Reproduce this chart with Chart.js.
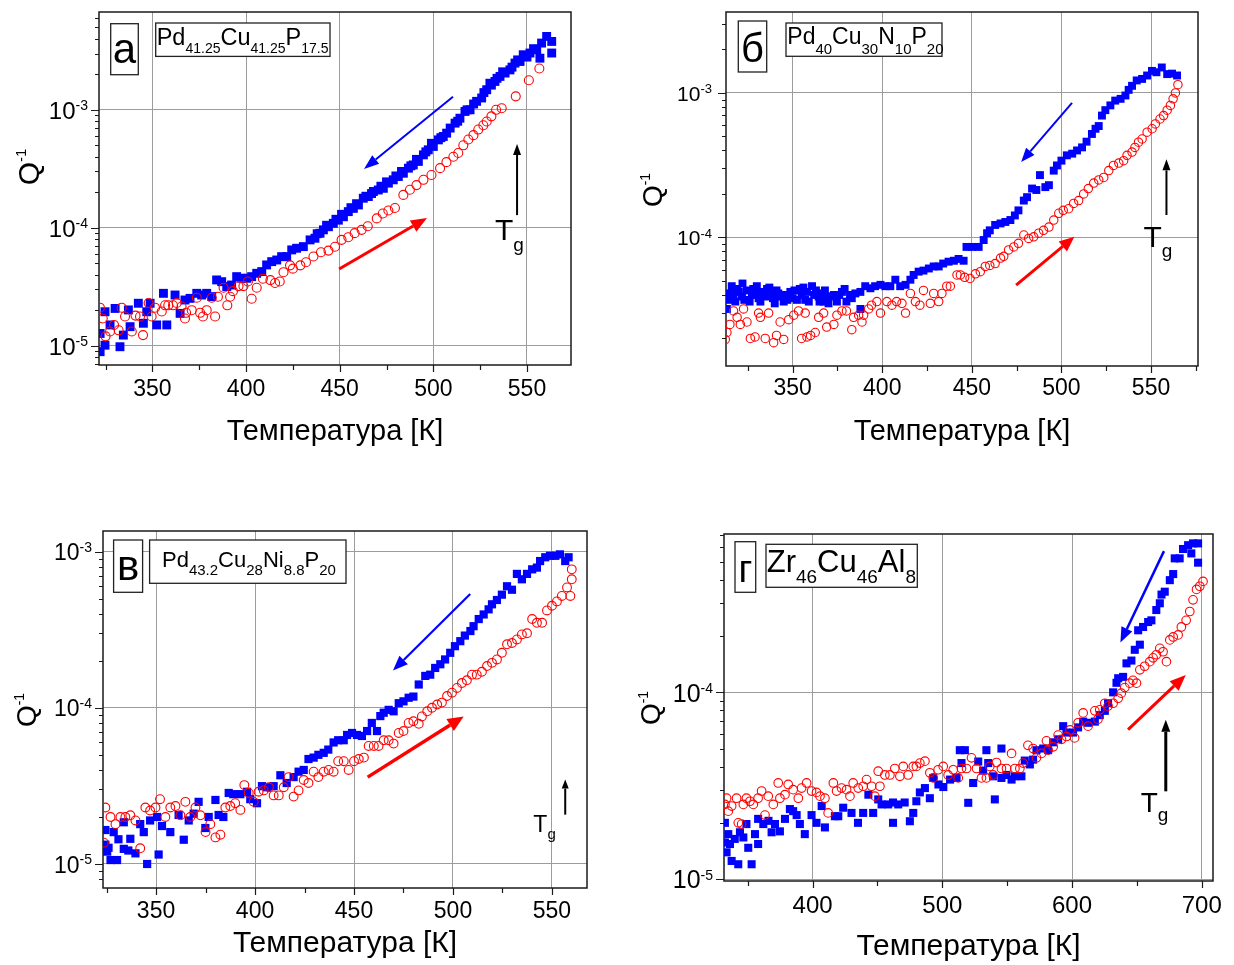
<!DOCTYPE html>
<html lang="ru">
<head>
<meta charset="utf-8">
<title>Q⁻¹(T) металлических стёкол</title>
<script src="https://cdn.jsdelivr.net/npm/chart.js@4.4.1/dist/chart.umd.min.js"></script>
<style>
  html, body { margin: 0; padding: 0; background: #fff; }
  body { width: 1234px; height: 965px; position: relative; overflow: hidden; }
  .panel { position: absolute; }
</style>
</head>
<body>
<div class="panel" id="pA"><canvas></canvas></div>
<div class="panel" id="pB"><canvas></canvas></div>
<div class="panel" id="pV"><canvas></canvas></div>
<div class="panel" id="pG"><canvas></canvas></div>
<script>
const FONT = "'Liberation Sans', Arial, Helvetica, sans-serif";
const E5 = 1e-5;           // Q^-1 values below are stored in units of 1e-5
const BLUE = '#0000ff', RED = '#ff0000', GRID = '#9c9c9c';

// x tick labels, y decades
const xTicks50 = [350, 400, 450, 500, 550];
const xTicks100 = [400, 500, 600, 700];
const decadesA = [1e-5, 1e-4, 1e-3];
const decadesB = [1e-4, 1e-3];
const decadesV = [1e-5, 1e-4, 1e-3];
const decadesG = [1e-5, 1e-4];

// Pd41.25Cu41.25P17.5 : [T, Q^-1 x1e5]
const coolA = [[560.5,419],[563.2,380],[563.2,303],[557.8,368],[555.2,323],[556.9,274],[553.5,330],[551.6,303],[550,280],[548.0,293],[546.3,257],[545,265],[543.6,249],[542,230],[540.9,218],[538.3,205],[537,210],[535.6,192],[534,185],[532.9,174],[531,162],[530.2,168],[528.5,148],[527,140],[525.8,126],[523.1,118],[521.5,112],[519.6,100],[518,100],[516.9,96.8],[514.2,84.9],[513,80],[511.6,77.1],[509,70],[507.1,63.4],[505.3,59.4],[504,58],[502.7,55.6],[500.0,48.9],[499,52],[497.3,45.8],[496,44],[494.7,41.5],[492.0,36.5],[491,38],[489.3,34.1],[488,33.5],[486.7,32.0],[484.0,29.0],[483,30],[481.3,27.2],[480,27.5],[478.6,25.5],[476.0,23.9],[475,24.5],[473.3,21.6],[472,22.5],[470.6,20.9],[468.0,20.3],[467,19.5],[465.3,18.4],[464,18.5],[462.6,17.8],[460.0,15.6],[459,16],[457.3,14.6],[456,14.8],[454.6,13.7],[452.0,12.4],[451,13],[449.3,11.6],[448,11.8],[446.6,10.9],[444.0,10.2],[443,10.5],[441.3,9.6],[439.5,8.98],[438,8.9],[436.8,8.15],[434.2,7.89],[430.6,6.92],[427.0,6.70],[424.4,6.49],[421.7,5.69],[419.0,5.69],[416.4,5.33],[413.7,5.16],[411.0,4.84],[408.4,4.25],[405.7,4.11],[403.0,3.85],[400.4,3.73],[397.7,3.73],[395.0,3.85],[392.3,3.27],[389.7,3.17],[387.0,3.49],[384.3,3.61],[381.7,2.61],[379.0,2.78],[376.3,2.69],[373.7,2.78],[370.1,2.52],[367.4,2.44],[364.8,1.88],[362.1,2.69],[357.7,1.50],[355.9,2.78],[352.3,1.50],[348.8,2.29],[347.0,1.94],[345.2,1.55],[342.5,2.29],[338.1,1.45],[337.2,2.01],[334.5,1.23],[332.7,0.98],[330.1,2.07],[327.4,1.50],[324.7,1.94],[324.7,1.01],[322.1,0.89],[322.1,1.27]];
const heatA = [[556.6,224],[551.0,178],[544.0,130],[536.5,103],[533.5,100],[531.0,88],[528.5,79.6],[526.7,74],[524.0,68],[521.4,61],[518.7,56],[516.0,50],[513.3,43],[510.7,40],[507.0,36],[503.6,32],[499.0,28],[494.7,25.5],[491.0,23],[487.5,21],[484.0,19],[479.5,14.7],[476.0,14],[473.0,13.2],[469.8,12],[465.0,10.3],[461.7,9.6],[458.0,9.0],[454.6,8.3],[451.0,7.9],[447.5,6.9],[444.0,6.4],[440.0,6.2],[436.0,5.7],[432.0,5.1],[429.0,4.8],[425.0,4.5],[423.5,4.8],[420.0,4.2],[418.0,3.5],[415.5,3.4],[413.0,3.6],[409.0,3.7],[405.7,3.1],[403.0,2.5],[401.0,3.5],[398.6,3.2],[396.0,3.2],[393.0,2.9],[391.5,2.6],[390.0,2.2],[388.0,3.1],[385.0,2.6],[381.7,2.55],[383.5,1.77],[379.0,2.0],[377.0,1.77],[375.5,1.9],[373.7,2.55],[371.0,2.0],[368.0,1.9],[367.4,1.7],[365.6,2.15],[363.0,2.3],[361.0,2.2],[358.5,2.2],[356.8,2.2],[355.0,1.95],[351.4,2.1],[349.6,1.77],[348.0,2.3],[345.0,1.23],[343.4,1.77],[341.0,1.8],[339.0,1.32],[335.4,1.77],[333.6,2.1],[332.0,1.35],[329.5,1.5],[327.4,1.32],[325.0,1.2],[323.5,1.7],[322.0,2.1]];

// Pd40Cu30N10P20
const coolB = [[564.5,132],[561.7,136],[559,135],[556,150],[553,139],[550.5,142],[547.8,132],[545,125],[542,122],[539.4,112],[537.5,105],[535.7,96],[533,91],[530,88.5],[527.3,82],[524.5,76],[522.6,69.7],[520.8,59],[519,56.5],[517,52],[514,46],[511.5,42],[508.7,40],[506,38],[503,37],[500,34],[497.5,31.5],[495.7,29],[493,23],[491,22.3],[488,27],[486,21.3],[483.6,21.8],[480.8,19],[479,18],[476,15.4],[474,14.2],[471.5,13.2],[468.7,12.8],[466,12.5],[463,12.2],[460,11.2],[458.5,10.7],[456.6,9.6],[453.8,8.6],[450,8.6],[447,8.6],[445.4,6.9],[442.6,7.1],[440,6.9],[437,6.8],[434,6.6],[431.5,6.3],[428.7,6.3],[426,6.1],[423,5.9],[420.3,5.8],[417.5,5.5],[415.7,5.1],[413,4.7],[410,4.6],[407.3,5.1],[404.5,4.6],[401.7,4.6],[399,4.7],[396,4.6],[393.4,4.45],[390.5,4.6],[387.8,4.2],[387.8,3.2],[385,4.1],[383,3.8],[382,4.0],[380,3.6],[379,4.4],[377.5,4.2],[376,4.0],[374.7,3.6],[373,4.0],[371,3.9],[370,3.5],[369,3.9],[368,4.3],[367.3,3.6],[366,4.1],[365,3.6],[364.5,3.9],[363,4.3],[362,4.0],[360.8,4.6],[359,3.6],[358,4.2],[357,3.7],[356,4.5],[355,4.0],[354,4.4],[352.4,3.7],[351,4.3],[350,3.8],[348.7,4.2],[347,3.7],[346,4.0],[345,3.6],[343,3.9],[342,4.1],[341,4.3],[340,3.5],[339,3.8],[338.5,4.2],[337,4.5],[336,3.9],[335.7,4.4],[334,4.0],[333,4.2],[332,3.6],[331,3.8],[330,4.6],[329,4.1],[328,4.4],[327.3,4.0],[326,3.6],[324.5,4.3],[323,3.7],[322,4.8],[321.7,3.9],[320,4.2],[319,4.4],[318,3.6],[317,4.0],[316,4.6],[315,4.1],[314,3.7],[313.3,3.2]];
const heatB = [[565,114],[563.6,100],[562.3,91],[560.8,82],[559,76],[557,69.7],[555,66],[552.4,61],[550.6,56.5],[547.8,53.5],[545,48],[543,45.6],[541,42],[539.4,39],[536.6,37],[534.7,34],[532,32.7],[529,31.5],[526.4,29],[523.6,26],[520.8,25],[518,23.8],[515,21.8],[512.4,20],[509.6,18],[506.8,17.2],[504,15.8],[501,15.4],[498.5,14.7],[495.7,13.2],[493,11.8],[490,11.2],[487.3,10.7],[484.5,10.1],[481.7,9.85],[479,10.4],[476,9.1],[473.4,8.6],[470.5,8.2],[467.8,7.4],[466,7.2],[463,6.6],[460,6.4],[457.5,6.3],[454.7,5.8],[452,5.6],[449,5.2],[446,5.3],[443.6,5.5],[441.7,5.5],[438,4.6],[436,4.6],[433.3,4.1],[431.5,3.6],[428.7,4.1],[426.8,3.5],[423,4.3],[421,3.4],[418.5,3.6],[415.7,4.1],[413,3.0],[411,3.5],[408,3.6],[405.4,3.4],[402.6,3.6],[399,3.0],[397,3.6],[394,3.4],[392.4,3.2],[389.6,2.9],[388.7,2.6],[386.8,2.9],[384,2.8],[383,2.3],[380,3.1],[377.5,3.1],[374.7,2.9],[373,2.5],[369,2.4],[367.3,3.0],[364.5,2.8],[362.6,2.2],[360,2.1],[358,2.05],[355,2.0],[357,3.0],[353.3,3.1],[350.6,2.9],[347.8,2.7],[345,1.97],[343,2.6],[341,2.1],[339.4,1.87],[336.6,3.0],[334.7,2.0],[332,2.8],[331,3.0],[329,2.05],[326.4,2.0],[324.5,2.6],[322.6,3.2],[320.8,2.5],[319,2.8],[317,3.1],[315,2.5],[313.3,2.2],[312.4,1.97]];

// Pd43.2Cu28Ni8.8P20
const coolV = [[558.4,92],[556.7,87],[554,96],[551.7,94],[549,94],[546.6,92],[544,87],[542.4,79],[540,77],[537.4,72],[534.8,66.5],[532.3,72],[529.8,57],[527.3,60],[524.7,53],[522.2,49],[519.7,46],[518,42.7],[515.5,39.6],[513,37],[510.4,33.3],[508.8,31],[506,29],[503.7,26.7],[501,24.8],[498.6,22.5],[496,20.4],[493.6,19],[491,18],[488.5,16.3],[486,16],[482.7,14.1],[480,11.8],[477.6,11.6],[475,11],[472.6,10.7],[470,9.5],[467.5,9.7],[465,9.3],[463.3,8.85],[459,8.0],[461.6,7.1],[456.6,7.1],[454,6.6],[451.5,6.7],[449,6.9],[446.5,6.7],[444.8,6.2],[442,6.2],[439.7,6.0],[437,5.4],[434.7,5.15],[432,5.0],[429.6,4.8],[427,4.7],[424.6,4.0],[422,3.9],[419.5,3.6],[416,3.3],[412.8,3.7],[409.4,3.15],[406,3.1],[403.5,3.15],[401,2.45],[397.6,2.6],[396,2.9],[392.6,2.8],[389,2.8],[386.7,2.85],[384,2.0],[381.6,2.06],[380,2.57],[376.6,2.0],[374.9,1.7],[371.5,2.5],[369,2.1],[366.5,1.9],[364,1.43],[361.4,2.06],[357.2,1.6],[353,1.75],[351.3,1.15],[350.5,2.0],[347,1.9],[345.5,1.0],[343.8,1.6],[342,1.8],[339.6,1.17],[337,1.45],[336,1.22],[333.7,1.85],[333.7,1.25],[331,1.44],[330.3,1.06],[328.6,1.6],[327,1.06],[326,1.27],[324.4,1.65],[325.3,1.2],[324.4,1.33]];
const heatV = [[560,77],[560,66.5],[559.3,52],[557.6,59],[555,52],[552.5,48],[550,45],[547.5,42],[545,35],[542.4,35],[540,37],[537.4,30],[534.8,29.5],[532.3,27.4],[529.8,26],[527.3,25.5],[524.7,22.5],[522.2,20.4],[519.7,19.4],[517.2,18.5],[514.6,17],[512,16.3],[509.6,16.3],[507,15],[504.5,14.4],[502,13.4],[499.5,12.5],[497,11.9],[494.4,10.8],[492,10.5],[489.4,10.0],[487,9.5],[484.3,8.8],[482.7,7.9],[480,8.2],[477.6,8.0],[475,7.1],[472.6,6.9],[470,5.9],[467.5,6.2],[465,6.2],[462.4,5.7],[460,5.7],[457.4,5.7],[455,4.8],[452.4,4.7],[450,4.55],[447.3,4.0],[444.8,4.55],[442,4.55],[439.7,3.9],[437.2,4.0],[434.7,3.9],[432,3.6],[429.6,3.9],[427,3.3],[424.6,3.45],[422,2.96],[419.5,2.7],[417,3.6],[414.5,3.1],[412,2.75],[409.4,2.75],[407,3.1],[404.4,2.96],[401.8,2.9],[399.3,2.5],[396.8,2.85],[394.6,3.2],[392.6,2.22],[390,2.45],[387.5,2.35],[385,2.3],[382.5,1.54],[380,1.48],[377.4,1.8],[375,1.6],[372.4,2.05],[369.9,2.3],[367.3,2.0],[364.8,2.5],[362.3,2.05],[359.8,2.35],[357.2,2.3],[354.7,2.0],[352,2.6],[349.7,2.3],[347,2.2],[344.6,2.3],[342,1.26],[339.6,1.9],[337,2.05],[334.5,2.0],[332,2.0],[329.5,1.8],[327,2.0],[324.4,2.3],[323.6,1.37]];

// Zr46Cu46Al8
const coolG = [[697.2,62.8],[693.3,62.8],[689.5,61.4],[692,55.5],[697.2,49.5],[685.6,58.6],[683,52.2],[679.2,52.2],[678,43.0],[675.4,39.9],[671.5,34.6],[669,33.4],[667.7,30.0],[665,27.6],[661.2,24.3],[658.7,23.8],[654.8,22.4],[651,21.5],[652.3,18.0],[648.4,16.9],[645.8,14.8],[642,14.3],[639.4,12.1],[635.6,11.9],[634.3,11.25],[631.7,10],[627.8,8.74],[625.3,7.96],[621.4,7.55],[617.6,6.97],[612.4,6.87],[608.6,6.97],[604.7,6.49],[600.8,6.09],[595.7,6.09],[593.2,6.59],[589.3,5.6],[585.5,5.4],[581.6,4.9],[577.8,5.0],[572.6,4.9],[570,4.36],[567.5,4.11],[563.6,4.31],[561,3.55],[556,3.55],[553.4,3.41],[549.5,3.61],[545.6,5.0],[545.6,3.48],[540.5,2.67],[539.2,3.55],[535.4,4.18],[534,4.9],[531.5,3.81],[527.7,4.26],[523.8,3.27],[520,2.56],[517.4,4.9],[513.5,4.9],[514.8,4.18],[511,3.48],[506,3.41],[500.8,3.11],[497,3.21],[493,3.48],[490.4,2.71],[486.6,3.07],[482.7,2.91],[480,2.61],[477.6,2.26],[475,2.04],[471,2.57],[466,2.51],[462,2.0],[462,2.57],[458.3,2.51],[453.2,2.51],[450.6,2.67],[446.7,2.26],[443,2.83],[439,2.26],[435,2.0],[430,2.26],[423.6,2.41],[419.8,2.17],[417.2,2.17],[409.5,1.89],[407,2.46],[403,2.0],[399.2,2.2],[394,1.74],[390.2,1.97],[387.7,2.2],[385,2.31],[382.5,2.37],[378.7,2.1],[374.8,1.8],[371,1.97],[368.4,1.78],[366,2.05],[362,1.97],[358,2.1],[358,1.54],[355.6,1.74],[353,1.2],[350.4,1.47],[349,1.97],[346.6,1.67],[344,1.78],[342.7,1.2],[340,1.64],[337.6,1.25],[336.3,1.54],[335,1.74],[333.7,1.39],[332.4,1.57],[332.4,2.0]];
const heatG = [[701,39.3],[698.5,37.0],[696,35.6],[693.3,31.3],[690.8,27.1],[688,24.3],[684.3,22.4],[681.8,20.3],[678,19.8],[675.4,19.1],[672.8,14.6],[670.2,16.5],[667.7,17.2],[665,15.9],[662.5,15.3],[660,14.6],[656,13.8],[652.3,13.2],[649.7,11.2],[647,11.6],[644.5,11.2],[640.7,10.6],[638,9.9],[635.6,9.3],[631.7,8.74],[627.8,8.44],[625.3,8.74],[621.4,8.06],[617.6,7.96],[620,7.18],[612.4,6.59],[608.6,7.76],[604.7,6.87],[602,5.7],[598.5,6.29],[595.7,5.8],[591.9,5.6],[589.3,5.9],[585.5,5.11],[581.6,4.9],[580.3,5.5],[576.5,4.71],[572.6,4.46],[570,5.0],[566,5.2],[562.3,4.18],[559.8,3.91],[556,3.91],[553.4,4.71],[549.5,3.91],[545.6,3.91],[541.8,4.21],[539.2,3.61],[536.6,4.01],[534,3.48],[530.2,3.48],[526.4,3.91],[522.5,4.46],[518.7,3.91],[514.8,3.91],[512.3,3.48],[508.4,3.85],[504.5,3.61],[500.7,4.01],[496.8,3.85],[493,3.48],[490.4,3.71],[486.6,4.28],[482.7,4.18],[480,4.01],[477.6,4.01],[473.7,3.61],[469.9,4.01],[467.3,3.55],[463.4,3.91],[459.6,3.61],[455.7,3.61],[451.9,3.14],[450.6,3.78],[448,2.78],[445.5,3.14],[441.6,3.41],[439,3.14],[435.2,3.07],[431.3,3.27],[428.8,2.78],[426.2,3.01],[422.3,3.07],[418.5,2.96],[416,3.27],[412,2.26],[409.5,2.71],[405.7,2.78],[403,2.91],[399.2,2.96],[395.4,3.27],[391.5,3.07],[389,2.71],[385,3.01],[381.2,3.21],[378.7,2.83],[374.8,2.71],[373.5,3.27],[369.7,2.51],[365.8,2.78],[363.3,2.2],[360.7,2.96],[358,2.71],[354.3,2.51],[351.7,2.61],[349,2.71],[346.6,2.51],[345.3,1.97],[342.7,2.0],[341.4,2.71],[337.6,2.46],[335,2.31],[333.7,2.71],[332.4,2.51]];

const panels = [
  { id: 'pA', box: [0, 0, 600, 460], area: [99, 12, 571, 365],
    xRange: [321.5, 573.5], yRange: [6.86e-6, 6.75e-3], xTicks: xTicks50, xMinor: 25, yTicks: decadesA,
    cool: coolA, heat: heatA, sq: 6.3, ci: 4.5,
    tickFont: 23, tickPad: 11, titleFont: 29, titlePad: 10.6,
    decFont: 24, expFont: 14, labGap: 11, q: [-71, 155, 30],
    letter: { ch: 'а', box: [11.7, 11.7, 27.6, 51], base: 39.3, size: 42 },
    formula: { box: [56.7, 11, 174.3, 33.4], tx: 1, base: 21.7, subBase: 30, size: 23.5, sub: 14,
      parts: [['Pd', 0], ['41.25', 1], ['Cu', 0], ['41.25', 1], ['P', 0], ['17.5', 1]] },
    arrows: [
      { from: [510.5, 129], to: [463, 31.5], color: BLUE, lw: 2, head: [15, 5.5] },
      { from: [449.7, 4.47], to: [496.6, 12.1], color: RED, lw: 3, head: [16, 6.5] },
      { from: [544.7, 12.8], to: [544.7, 51.4], color: '#000', lw: 2, head: [11, 4] }],
    tg: { at: [532.9, 7.9], size: 30, sub: 19, drop: 11 } },
  { id: 'pB', box: [610, 0, 624, 460], area: [726, 12, 1198, 366],
    xRange: [312.8, 576.2], yRange: [1.29e-5, 3.63e-3], xTicks: xTicks50, xMinor: 25, yTicks: decadesB,
    cool: coolB, heat: heatB, sq: 5.6, ci: 4.2,
    tickFont: 23, tickPad: 9.2, titleFont: 29, titlePad: 10.6,
    decFont: 21, expFont: 13, labGap: 14, q: [-74, 178, 28],
    letter: { ch: 'б', box: [12.3, 9, 28.4, 51], base: 41, size: 40 },
    formula: { box: [60, 11, 156, 33.3], tx: 1.3, base: 21.3, subBase: 30.6, size: 23, sub: 15,
      parts: [['Pd', 0], ['40', 1], ['Cu', 0], ['30', 1], ['N', 0], ['10', 1], ['P', 0], ['20', 1]] },
    arrows: [
      { from: [505.9, 85.3], to: [477.5, 33.3], color: BLUE, lw: 2, head: [14, 5.5] },
      { from: [474.7, 4.68], to: [507.2, 10.1], color: RED, lw: 3, head: [15, 6.5] },
      { from: [558.6, 14.3], to: [558.6, 34.7], color: '#000', lw: 2, head: [11, 4] }],
    tg: { at: [545.8, 8.57], size: 30, sub: 19, drop: 10 } },
  { id: 'pV', box: [0, 480, 600, 485], area: [103, 531, 587, 888],
    xRange: [323.2, 567.7], yRange: [7.02e-6, 1.355e-3], xTicks: xTicks50, xMinor: 25, yTicks: decadesV,
    cool: coolV, heat: heatV, sq: 5.8, ci: 4.4,
    tickFont: 23, tickPad: 10, titleFont: 30, titlePad: 3,
    decFont: 23, expFont: 14, labGap: 11, q: [-77, 179, 28],
    letter: { ch: 'в', box: [10.6, 9, 29, 52.3], base: 40, size: 42 },
    formula: { box: [46.6, 9, 196.4, 43.3], tx: 12.4, base: 26.7, subBase: 35, size: 22, sub: 15,
      parts: [['Pd', 0], ['43.2', 1], ['Cu', 0], ['28', 1], ['Ni', 0], ['8.8', 1], ['P', 0], ['20', 1]] },
    arrows: [
      { from: [508.7, 53.6], to: [469.7, 17.3], color: BLUE, lw: 2.2, head: [15, 6] },
      { from: [456.9, 3.6], to: [505.4, 8.8], color: RED, lw: 3.5, head: [16, 7] },
      { from: [556.7, 2.07], to: [556.7, 3.47], color: '#000', lw: 2, head: [9, 3.5] }],
    tg: { at: [540.6, 1.61], size: 23, sub: 15, drop: 7 } },
  { id: 'pG', box: [610, 480, 624, 485], area: [724, 534, 1213, 881],
    xRange: [331.7, 708.7], yRange: [9.76e-6, 7.05e-4], xTicks: xTicks100, xMinor: 50, yTicks: decadesG,
    cool: coolG, heat: heatG, sq: 5.7, ci: 4.3,
    tickFont: 24, tickPad: 10.6, titleFont: 30, titlePad: 0,
    decFont: 25, expFont: 14, labGap: 11, q: [-74, 174, 28],
    letter: { ch: 'г', box: [11, 7.7, 20.7, 50.6], base: 40, size: 38 },
    formula: { box: [42, 10.3, 151.3, 43], tx: 0.7, base: 27.4, subBase: 38.4, size: 31, sub: 19,
      parts: [['Zr', 0], ['46', 1], ['Cu', 0], ['46', 1], ['Al', 0], ['8', 1]] },
    arrows: [
      { from: [670.9, 57.1], to: [637.3, 18.5], color: BLUE, lw: 2.5, head: [15, 6] },
      { from: [643.2, 6.31], to: [687.7, 12.4], color: RED, lw: 3, head: [16, 6.5] },
      { from: [672.3, 2.95], to: [672.3, 7.13], color: '#000', lw: 3, head: [12, 4.5] }],
    tg: { at: [653, 2.3], size: 28, sub: 19, drop: 9 } }
];

function arrow(ctx, x0, y0, x1, y1, color, lw, hl, hw) {
  const a = Math.atan2(y1 - y0, x1 - x0), c = Math.cos(a), s = Math.sin(a);
  const bx = x1 - hl * c, by = y1 - hl * s;
  ctx.strokeStyle = color; ctx.fillStyle = color; ctx.lineWidth = lw;
  ctx.beginPath(); ctx.moveTo(x0, y0); ctx.lineTo(bx, by); ctx.stroke();
  ctx.beginPath(); ctx.moveTo(x1, y1);
  ctx.lineTo(bx + hw * s, by - hw * c);
  ctx.lineTo(bx - hw * s, by + hw * c);
  ctx.closePath(); ctx.fill();
}

function decor(p) {
  return {
    id: 'decor',
    beforeDatasetsDraw(chart) {
      const { ctx, chartArea: a, scales: { x, y } } = chart;
      ctx.save();
      ctx.strokeStyle = '#1a1a1a'; ctx.lineWidth = 1.2;
      ctx.beginPath();
      // outward ticks on bottom axis
      for (let v = Math.ceil(x.min / p.xMinor) * p.xMinor; v <= x.max; v += p.xMinor) {
        const px = Math.round(x.getPixelForValue(v)) + 0.5;
        const major = p.xTicks.includes(v);
        ctx.moveTo(px, a.bottom); ctx.lineTo(px, a.bottom + (major ? 7 : 5));
      }
      // log ticks on left axis
      const e0 = Math.floor(Math.log10(y.min)), e1 = Math.ceil(Math.log10(y.max));
      for (let e = e0; e <= e1; e++) {
        for (let m = 1; m <= 9; m++) {
          const v = m * Math.pow(10, e);
          if (v < y.min || v > y.max) continue;
          const py = Math.round(y.getPixelForValue(v)) + 0.5;
          ctx.moveTo(a.left, py); ctx.lineTo(a.left - (m === 1 ? 8 : 4), py);
        }
      }
      ctx.stroke();
      ctx.lineWidth = 1.5;
      ctx.strokeRect(a.left, a.top, a.right - a.left, a.bottom - a.top);

      // decade labels 10^n
      ctx.fillStyle = '#000'; ctx.textBaseline = 'alphabetic'; ctx.textAlign = 'left';
      for (const v of p.yTicks) {
        const py = y.getPixelForValue(v);
        const ex = String(Math.round(Math.log10(v)));
        ctx.font = p.decFont + 'px ' + FONT;
        const w1 = ctx.measureText('10').width;
        ctx.font = p.expFont + 'px ' + FONT;
        const w2 = ctx.measureText(ex).width;
        const x0 = a.left - p.labGap - w1 - w2;
        ctx.font = p.decFont + 'px ' + FONT;
        ctx.fillText('10', x0, py + p.decFont * 0.37);
        ctx.font = p.expFont + 'px ' + FONT;
        ctx.fillText(ex, x0 + w1, py + 0.5);
      }

      // rotated Q^-1 title
      ctx.save();
      ctx.translate(a.left + p.q[0], a.top + p.q[1]);
      ctx.rotate(-Math.PI / 2);
      const qf = p.q[2], sf = Math.round(qf * 0.5);
      ctx.font = qf + 'px ' + FONT;
      const wq = ctx.measureText('Q').width;
      ctx.font = sf + 'px ' + FONT;
      const ws = ctx.measureText('-1').width;
      const sx = -(wq + ws) / 2;
      ctx.font = qf + 'px ' + FONT;
      ctx.fillText('Q', sx, qf * 0.36);
      ctx.font = sf + 'px ' + FONT;
      ctx.fillText('-1', sx + wq, -qf * 0.08);
      ctx.restore();
      ctx.restore();
    },
    afterDatasetsDraw(chart) {
      const { ctx, chartArea: a, scales: { x, y } } = chart;
      ctx.save();
      for (const ar of p.arrows) {
        arrow(ctx, x.getPixelForValue(ar.from[0]), y.getPixelForValue(ar.from[1] * E5),
          x.getPixelForValue(ar.to[0]), y.getPixelForValue(ar.to[1] * E5),
          ar.color, ar.lw, ar.head[0], ar.head[1]);
      }
      // T_g
      ctx.fillStyle = '#000'; ctx.textAlign = 'left'; ctx.textBaseline = 'alphabetic';
      const tx = x.getPixelForValue(p.tg.at[0]), ty = y.getPixelForValue(p.tg.at[1] * E5);
      ctx.font = p.tg.size + 'px ' + FONT;
      ctx.fillText('T', tx, ty);
      const wt = ctx.measureText('T').width;
      ctx.font = p.tg.sub + 'px ' + FONT;
      ctx.fillText('g', tx + wt, ty + p.tg.drop);

      // panel letter
      const L = p.letter;
      ctx.fillStyle = '#fff'; ctx.strokeStyle = '#222'; ctx.lineWidth = 1.3;
      ctx.fillRect(a.left + L.box[0], a.top + L.box[1], L.box[2], L.box[3]);
      ctx.strokeRect(a.left + L.box[0], a.top + L.box[1], L.box[2], L.box[3]);
      ctx.fillStyle = '#000'; ctx.textAlign = 'center';
      ctx.font = L.size + 'px ' + FONT;
      ctx.fillText(L.ch, a.left + L.box[0] + L.box[2] / 2, a.top + L.box[1] + L.base);

      // alloy composition
      const F = p.formula;
      const bx = a.left + F.box[0], by = a.top + F.box[1];
      ctx.fillStyle = '#fff';
      ctx.fillRect(bx, by, F.box[2], F.box[3]);
      ctx.strokeRect(bx, by, F.box[2], F.box[3]);
      ctx.fillStyle = '#000'; ctx.textAlign = 'left';
      let cx = bx + F.tx;
      for (const [txt, sub] of F.parts) {
        ctx.font = (sub ? F.sub : F.size) + 'px ' + FONT;
        ctx.fillText(txt, cx, by + (sub ? F.subBase : F.base));
        cx += ctx.measureText(txt).width;
      }
      ctx.restore();
    }
  };
}

Chart.defaults.font.family = FONT;
Chart.defaults.color = '#000';

function makePanel(p) {
  const wrap = document.getElementById(p.id);
  const [bl, bt, bw, bh] = p.box;
  Object.assign(wrap.style, { left: bl + 'px', top: bt + 'px', width: bw + 'px', height: bh + 'px' });
  const yW = p.area[0] - bl;
  const xH = bt + bh - p.area[3];
  new Chart(wrap.querySelector('canvas'), {
    type: 'scatter',
    data: {
      datasets: [
        { data: p.heat.map(([t, q]) => ({ x: t, y: q * E5 })), pointStyle: 'circle',
          pointRadius: p.ci, borderColor: RED, backgroundColor: 'rgba(255,255,255,0)', borderWidth: 1.1, clip: 0 },
        { data: p.cool.map(([t, q]) => ({ x: t, y: q * E5 })), pointStyle: 'rect',
          pointRadius: p.sq, backgroundColor: BLUE, borderWidth: 0, clip: 0 }
      ]
    },
    options: {
      responsive: true, maintainAspectRatio: false, animation: false, devicePixelRatio: 1, events: [],
      layout: { padding: { left: 0, top: p.area[1] - bt, right: bl + bw - p.area[2], bottom: 0 } },
      plugins: { legend: { display: false }, tooltip: { enabled: false } },
      scales: {
        x: {
          type: 'linear', min: p.xRange[0], max: p.xRange[1],
          afterBuildTicks: s => { s.ticks = p.xTicks.map(v => ({ value: v })); },
          afterFit: s => { s.height = xH; },
          grid: { color: GRID, lineWidth: 1, drawTicks: false },
          border: { display: false },
          ticks: { font: { size: p.tickFont }, color: '#000', padding: p.tickPad, maxRotation: 0, autoSkip: false },
          title: { display: true, text: 'Температура [К]', font: { size: p.titleFont }, color: '#000',
            padding: { top: 0, bottom: p.titlePad } }
        },
        y: {
          type: 'logarithmic', min: p.yRange[0], max: p.yRange[1],
          afterBuildTicks: s => { s.ticks = p.yTicks.map(v => ({ value: v })); },
          afterFit: s => { s.width = yW; },
          grid: { color: GRID, lineWidth: 1, drawTicks: false },
          border: { display: false },
          ticks: { display: false }
        }
      }
    },
    plugins: [decor(p)]
  });
}

panels.forEach(makePanel);
</script>
</body>
</html>
